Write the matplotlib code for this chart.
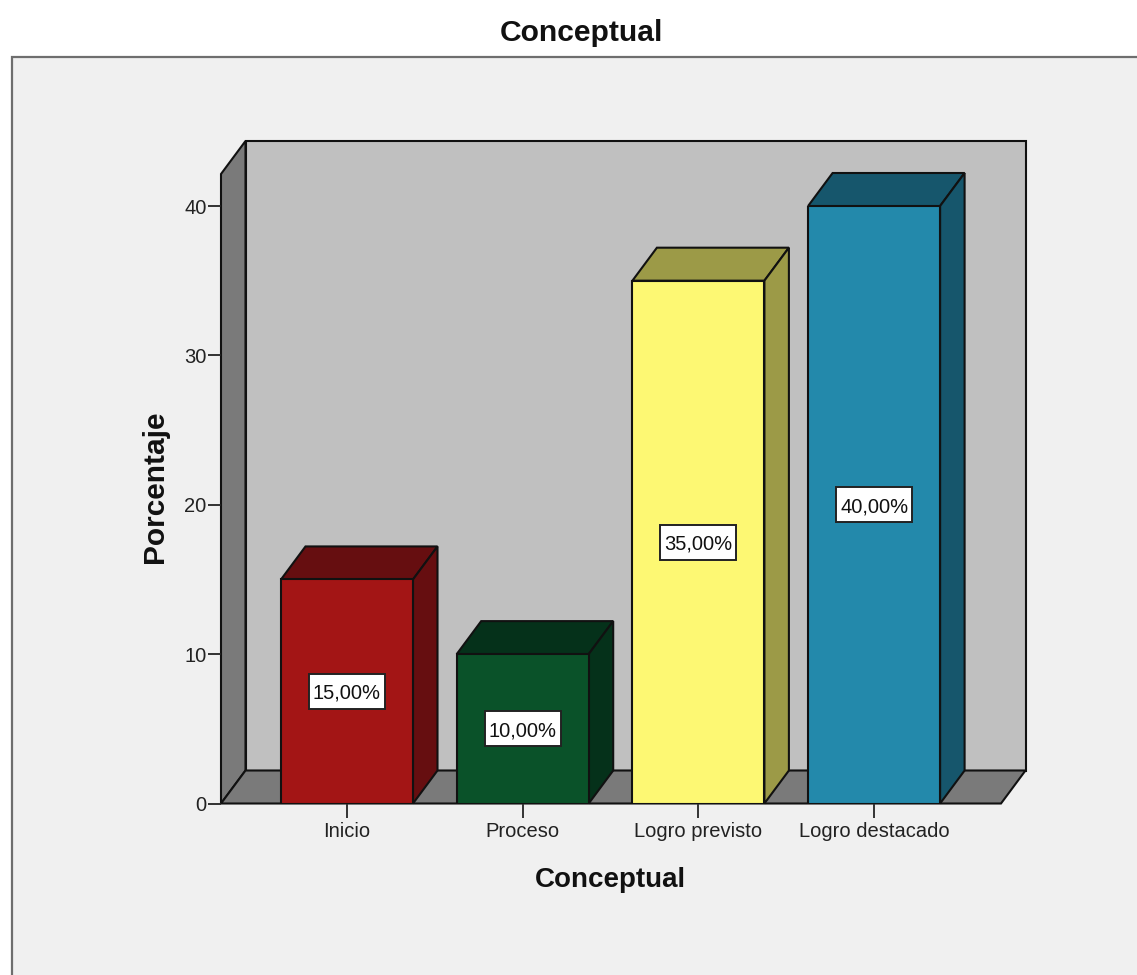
import matplotlib
matplotlib.use('Agg')
import matplotlib.pyplot as plt
from matplotlib.patches import Polygon, Rectangle

categories = ['Inicio', 'Proceso', 'Logro previsto', 'Logro destacado']
values = [15, 10, 35, 40]
labels = ['15,00%', '10,00%', '35,00%', '40,00%']
colors = ['#a31515', '#0a5229', '#fdf873', '#2389ab']
tops = ['#660e10', '#05311a', '#9c9a47', '#16566c']
yticks = [0, 10, 20, 30, 40]

W, H = 1137, 975
plt.rcParams['font.family'] = ['Liberation Sans', 'DejaVu Sans']
fig = plt.figure(figsize=(W/100, H/100), dpi=100, facecolor='white')

bg = fig.add_axes([0, 0, 1, 1]); bg.set_xlim(0, W); bg.set_ylim(H, 0); bg.axis('off')
bg.add_patch(Rectangle((12, 57), W, H, fc='#f0f0f0', ec='#6e6e6e', lw=1.6))

x0, x1, y0, y40 = 221, 1001, 803.5, 206
ax = fig.add_axes([x0/W, 1-y0/H, (x1-x0)/W, (y0-y40)/H])
ax.set_xlim(0, 4)
ax.set_ylim(0, 40)
ax.patch.set_alpha(0)
for s in ax.spines.values():
    s.set_visible(False)

px = 4/(x1-x0)
py = 40/(y0-y40)
dx, dy = 24.5*px, 33*py
ytop = (y0-141)*py
ec = '#111111'
def poly(pts, fc, z=1, lw=1.5):
    ax.add_patch(Polygon(pts, closed=True, fc=fc, ec=ec, lw=lw, zorder=z, clip_on=False, joinstyle='miter'))

# back wall, side wall and floor
poly([(dx, dy), (4+dx, dy), (4+dx, ytop), (dx, ytop)], '#c0c0c0', 1)
poly([(0, 0), (dx, dy), (dx, ytop), (0, ytop-dy)], '#7a7a7a', 1)
poly([(0, 0), (dx, dy), (4+dx, dy), (4, 0)], '#7a7a7a', 1)

bw = 132*px
box_w, box_h = 76*px, 35*py
xcs = [(347 + i*175.7 - x0)*px for i in range(4)]
for xc, v, c, t, lab in zip(xcs, values, colors, tops, labels):
    l, r = xc-bw/2, xc+bw/2
    poly([(l, v), (l+dx, v+dy), (r+dx, v+dy), (r, v)], t, 3)
    poly([(r, 0), (r+dx, dy), (r+dx, v+dy), (r, v)], t, 3)
    ax.bar(xc, v, width=bw, color=c, edgecolor=ec, linewidth=1.5, zorder=4)
    ax.add_patch(Rectangle((xc-box_w/2, v/2-box_h/2), box_w, box_h, fc='white', ec='#222222', lw=1.4, zorder=5))
    ax.text(xc, v/2, lab, ha='center', va='center_baseline', fontsize=14.5, color='#111111', zorder=6)

ax.set_xticks(xcs)
ax.set_xticklabels(categories, fontsize=14.5, color='#222222')
ax.set_yticks(yticks)
ax.set_yticklabels([str(v) for v in yticks], fontsize=14.5, color='#222222')
ax.tick_params(axis='x', direction='out', length=10, width=1.4, color='#333333', pad=3)
ax.tick_params(axis='y', length=9.5, width=1.3, color='#222222', pad=1)

fig.text(581/W, 1-33/H, 'Conceptual', ha='center', va='center', fontsize=21.6, fontweight='bold', color='#111111')
fig.text(610/W, 1-880/H, 'Conceptual', ha='center', va='center', fontsize=20, fontweight='bold', color='#111111')
fig.text(155/W, 1-487/H, 'Porcentaje', ha='center', va='center', rotation=90, fontsize=21.5, fontweight='bold', color='#111111')

fig.savefig('out.png', dpi=100)
